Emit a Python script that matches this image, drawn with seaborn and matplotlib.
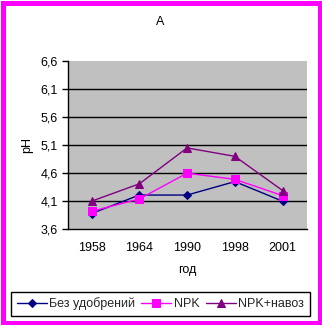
import matplotlib
matplotlib.use("Agg")
import matplotlib.pyplot as plt
import matplotlib.patches as mpatches
import seaborn as sns
import pandas as pd

sns.set_theme(style="white")
plt.rcParams['font.family'] = ['Liberation Sans', 'DejaVu Sans']

years = ["1958", "1964", "1990", "1998", "2001"]
series_names = ["Без удобрений", "NPK", "NPK+навоз"]
no_fert = [3.88, 4.21, 4.21, 4.45, 4.10]
npk = [3.92, 4.14, 4.60, 4.49, 4.20]
npk_manure = [4.10, 4.41, 5.05, 4.90, 4.29]
y_ticks = [3.6, 4.1, 4.6, 5.1, 5.6, 6.1, 6.6]

colors = {"Без удобрений": "#000080", "NPK": "#FF00FF", "NPK+навоз": "#800080"}
markers = {"Без удобрений": "D", "NPK": "s", "NPK+навоз": "^"}
msizes = {"Без удобрений": 4.5, "NPK": 6, "NPK+навоз": 6}

rows = []
for name, vals in zip(series_names, [no_fert, npk, npk_manure]):
    for i, (yr, v) in enumerate(zip(years, vals)):
        rows.append({"pos": i, "year": yr, "pH": v, "series": name})
df = pd.DataFrame(rows)

FS = 9

fig = plt.figure(figsize=(3.22, 3.25), dpi=100)
fig.patch.set_facecolor("white")
ax = fig.add_axes([0.210, 0.2945, 0.742, 0.518])
ax.set_facecolor("#C0C0C0")

for name in series_names:
    sub = df[df["series"] == name]
    sns.lineplot(data=sub, x="pos", y="pH", ax=ax, color=colors[name],
                 marker=markers[name], markersize=msizes[name],
                 markeredgecolor=colors[name], linewidth=1.0,
                 label=name, zorder=3)

ax.set_xlim(-0.5, len(years) - 0.5)
ax.set_ylim(3.6, 6.6)
ax.set_yticks(y_ticks)
ax.set_yticklabels([f"{t:.1f}".replace(".", ",") for t in y_ticks])
ax.set_xticks(range(len(years)))
ax.set_xticklabels(years)
ax.set_xticks([i - 0.5 for i in range(len(years) + 1)], minor=True)

for t in y_ticks[1:-1]:
    ax.axhline(t, color="black", linewidth=1.0, zorder=1)

for s in ["top", "right"]:
    ax.spines[s].set_visible(False)
for s in ["left", "bottom"]:
    ax.spines[s].set_color("black")
    ax.spines[s].set_linewidth(1.0)

ax.tick_params(axis="x", which="major", length=0, labelsize=FS, pad=9, colors="black")
ax.tick_params(axis="x", which="minor", length=4, width=1, color="black", direction="out")
ax.tick_params(axis="y", length=4, width=1, labelsize=FS, colors="black", direction="out",
               left=True, pad=3)

ax.set_xlabel("год", fontsize=FS, labelpad=7, color="black")
ax.set_ylabel("pH", fontsize=FS, labelpad=5, color="black")
fig.text(0.497, 0.932, "А", ha="center", va="center", fontsize=FS, color="black")

handles, labels = ax.get_legend_handles_labels()
if ax.legend_:
    ax.legend_.remove()
leg = fig.legend(handles, labels, loc="center", bbox_to_anchor=(0.498, 0.065),
                 ncol=3, fontsize=FS, frameon=True, fancybox=False,
                 edgecolor="black", facecolor="white", framealpha=1,
                 handlelength=2.4, handletextpad=0.2, columnspacing=0.5,
                 borderpad=0.45, borderaxespad=0)
leg.get_frame().set_linewidth(1.0)

fig.patches.append(mpatches.Rectangle((2.5 / 322, 2.5 / 325), 1 - 5 / 322, 1 - 5 / 325,
                                      transform=fig.transFigure, fill=False,
                                      edgecolor="#FF00FF", linewidth=3.6))

fig.savefig("out.png", dpi=100, facecolor="white")
